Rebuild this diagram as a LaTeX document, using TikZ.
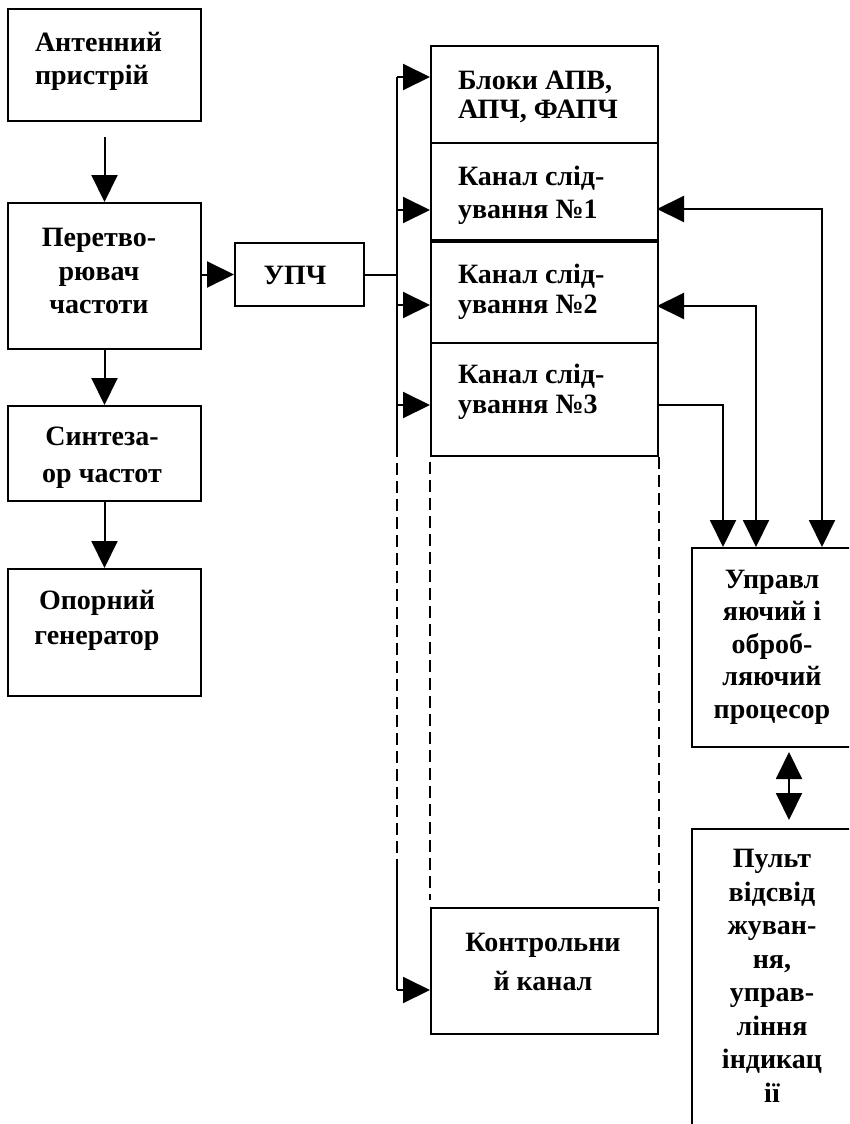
\documentclass[tikz,border=0pt]{standalone}
\usepackage{fontspec}
\setmainfont{Liberation Serif}
\usetikzlibrary{arrows.meta,calc}
\begin{document}
\begin{tikzpicture}[x=1pt,y=-1pt,line width=2pt,
  box/.style={draw,rectangle,inner sep=0pt,anchor=north west},
  lbl/.style={font=\bfseries\fontsize{28}{#1}\selectfont,inner sep=0pt},
  lbl/.default=33,
  arr/.style={-{Triangle[length=27pt,width=26pt]}},
  darr/.style={{Triangle[length=27pt,width=26pt]}-{Triangle[length=27pt,width=26pt]}},
  dsh/.style={dash pattern=on 12pt off 6pt}]
\useasboundingbox (0,0) rectangle (849,1124);
\clip (0,0) rectangle (849,1124);

% left column
\node[box,minimum width=193pt,minimum height=112pt] (ant) at (7,8) {};
\node[box,minimum width=193pt,minimum height=146pt] (conv) at (7,202) {};
\node[box,minimum width=193pt,minimum height=95pt] (synth) at (7,405) {};
\node[box,minimum width=193pt,minimum height=127pt] (ref) at (7,568) {};
\node[box,minimum width=129pt,minimum height=63pt] (upch) at (234,242) {};

\node[lbl,align=left,anchor=west] (ant-t) at (34,61) {Антенний\\пристрій};
\node[lbl=33.5,align=center] (conv-t) at (99,271) {Перетво-\\рювач\\частоти};
\node[lbl=37,align=center] (synth-t) at (102,458) {Синтеза-\\ор частот};
\node[lbl=35,align=center] (ref-t) at (97,620) {Опорний\\генератор};
\node[lbl] (upch-t) at (295,275) {УПЧ};

% channel stack
\node[box,minimum width=227pt,minimum height=97pt] (blk) at (430,45) {};
\node[box,minimum width=227pt,minimum height=97pt] (k1) at (430,142) {};
\node[box,minimum width=227pt,minimum height=101pt] (k2) at (430,241) {};
\node[box,minimum width=227pt,minimum height=113pt] (k3) at (430,342) {};
\node[box,minimum width=227pt,minimum height=126pt] (ctrl) at (430,907) {};

\node[lbl=29,align=left,anchor=west] (blk-t) at (457,97) {Блоки АПВ,\\АПЧ, ФАПЧ};
\node[lbl=33,align=left,anchor=west] (k1-t) at (457,195) {Канал слід-\\ування №1};
\node[lbl=30,align=left,anchor=west] (k2-t) at (457,292) {Канал слід-\\ування №2};
\node[lbl=30,align=left,anchor=west] (k3-t) at (457,392) {Канал слід-\\ування №3};
\node[lbl=39,align=center] (ctrl-t) at (543,962) {Контрольни\\й канал};

% right column
\node[box,minimum width=180pt,minimum height=199pt] (proc) at (691,547) {};
\node[box,minimum width=180pt,minimum height=320pt] (pult) at (691,828) {};
\node[lbl=32.5,align=center] (proc-t) at (772,647) {Управл\\яючий і\\оброб-\\ляючий\\процесор};
\node[lbl=33.5,align=center] (pult-t) at (772,976) {Пульт\\відсвід\\жуван-\\ня,\\управ-\\ління\\індикац\\ії};

% left column connectors
\draw[arr] ($(ant.south)+(0,15)$) -- (conv.north);
\draw[arr] (conv.south) -- (synth.north);
\draw[arr] (synth.south) -- (ref.north);
\draw[arr] (upch.west -| conv.east) -- (upch.west);

% distribution bus
\coordinate (busTop) at (397,77);
\coordinate (busA) at (397,445);
\coordinate (busB) at (397,860);
\coordinate (busBot) at (397,990);
\draw (upch.east) -- (upch.east -| busTop);
\draw (busTop) -- (busA);
\draw[dsh] (busA) -- (busB);
\draw (busB) -- (busBot);

\coordinate (blkin) at (430,77);
\coordinate (k1in) at (430,210);
\coordinate (k2in) at (430,305);
\coordinate (k3in) at (430,405);
\coordinate (ctrlin) at (430,990);
\draw[arr] (busTop) -- (blkin);
\draw[arr] (k1in -| busTop) -- (k1in);
\draw[arr] (k2in -| busTop) -- (k2in);
\draw[arr] (k3in -| busTop) -- (k3in);
\draw[arr] (busBot) -- (ctrlin);

% omitted channels
\draw[dsh] (430,462) -- (430,900);
\draw[dsh] (k3.south east) -- (ctrl.north east);

% links to the processor
\coordinate (k1out) at (657,209);
\coordinate (k2out) at (657,306);
\coordinate (k3out) at (657,405);
\coordinate (p1) at (822,547);
\coordinate (p2) at (756,547);
\coordinate (p3) at (723,547);
\draw[darr] (p1) |- (k1out);
\draw[darr] (p2) |- (k2out);
\draw[arr] (k3out) -| (p3);

\coordinate (pa) at (789,752);
\coordinate (pb) at (789,820);
\draw[darr] (pa) -- (pb);
\end{tikzpicture}
\end{document}
